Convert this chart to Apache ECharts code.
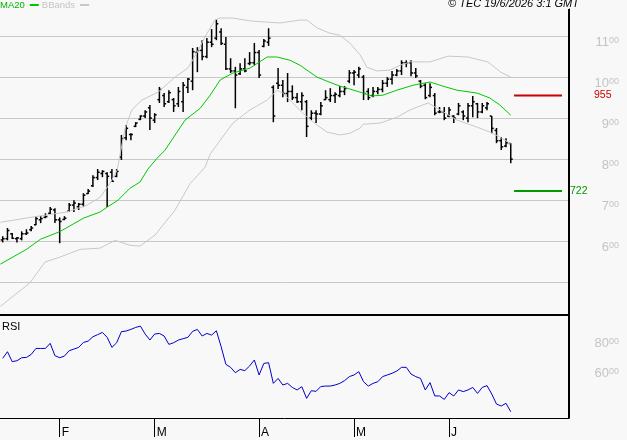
<!DOCTYPE html>
<html>
<head>
    <meta charset="utf-8">
    <title>TEC</title>
    <script src="https://cdn.jsdelivr.net/npm/echarts@6/dist/echarts.min.js"></script>
    <style>
        html, body { margin: 0; padding: 0; background: #f8f8f8; }
        #chart { width: 627px; height: 440px; }
    </style>
</head>
<body>
    <div id="chart"></div>
    <script>
        // one entry per trading session, index 0 = first bar on the chart
        var opens = [603, 606, 618, 606, 606, 618, 628, 640, 652, 658, 668, 676, 652, 653, 673, 688, 684, 690, 716, 735,
            755, 765, 765, 768, 758, 805, 852, 860, 880, 897, 905, 925, 895, 945, 955, 940, 945, 935, 940, 975,
            990, 1060, 1065, 1050, 1085, 1095, 1110, 1080, 1020, 1015, 1008, 1020, 1033, 1035, 1060, 1075, 1085, 975, 985, 980,
            960, 965, 950, 940, 940, 900, 912, 910, 945, 945, 955, 955, 965, 990, 1010, 1005, 1000, 965, 955, 965,
            970, 985, 995, 1005, 1015, 1035, 1035, 1010, 990, 980, 955, 955, 915, 915, 905, 905, 910, 915, 900, 930,
            935, 915, 925, 905, 870, 845, 832, 838];
        var highs = [612, 632, 620, 610, 624, 629, 637, 661, 661, 668, 683, 680, 658, 661, 693, 700, 693, 717, 727, 761,
            776, 773, 768, 776, 776, 859, 883, 863, 890, 907, 919, 932, 912, 976, 961, 968, 949, 976, 988, 998,
            1071, 1073, 1090, 1095, 1117, 1141, 1119, 1098, 1046, 1025, 1034, 1046, 1061, 1083, 1066, 1093, 1119, 980, 1022, 993,
            1010, 980, 961, 963, 944, 919, 919, 939, 968, 973, 963, 978, 978, 1017, 1017, 1025, 1005, 973, 976, 976,
            993, 1000, 1015, 1020, 1041, 1041, 1041, 1022, 993, 985, 985, 961, 927, 927, 927, 907, 937, 919, 937, 954,
            937, 937, 939, 905, 876, 854, 851, 839];
        var lows = [597, 602, 605, 597, 602, 615, 624, 639, 644, 656, 666, 644, 595, 651, 671, 671, 676, 683, 715, 732,
            749, 756, 683, 744, 756, 798, 846, 846, 878, 895, 900, 871, 888, 937, 927, 937, 915, 927, 915, 961,
            968, 1012, 1041, 1046, 1073, 1090, 1078, 1017, 1010, 924, 1005, 1012, 1029, 1029, 998, 1073, 1076, 890, 971, 951,
            939, 944, 937, 919, 854, 895, 888, 907, 944, 939, 937, 951, 956, 985, 980, 998, 944, 944, 951, 958,
            963, 976, 982, 1002, 1005, 1024, 1002, 998, 973, 946, 951, 907, 912, 895, 902, 888, 907, 895, 890, 902,
            900, 912, 919, 863, 839, 822, 829, 790];
        var closes = [606, 626, 607, 608, 618, 620, 632, 655, 655, 660, 678, 652, 648, 656, 688, 693, 690, 712, 722, 755,
            768, 770, 758, 746, 770, 850, 875, 860, 888, 905, 915, 900, 908, 970, 935, 962, 930, 965, 980, 995,
            1062, 1065, 1050, 1085, 1080, 1130, 1082, 1020, 1015, 1005, 1020, 1015, 1035, 1060, 1005, 1088, 1095, 905, 980, 960,
            965, 950, 940, 955, 880, 912, 910, 930, 950, 955, 958, 965, 972, 1010, 1012, 1020, 960, 950, 965, 970,
            985, 995, 1005, 1015, 1035, 1035, 1010, 1003, 978, 950, 975, 912, 915, 900, 920, 900, 930, 905, 930, 940,
            915, 930, 935, 875, 845, 830, 840, 800];

        // moving average and bollinger bands, read as [bar index, value]
        var ma20 = [[-0.5, 544], [5, 580], [8, 605], [12, 623], [17, 656], [20.5, 671], [22, 683], [24.3, 700], [26.8, 729],
            [28.9, 744], [30.6, 776], [32.5, 802], [34.2, 822], [38.4, 895], [41.6, 924], [43.7, 956], [45.8, 993],
            [48.5, 1010], [52.1, 1022], [55.7, 1049], [57.8, 1049], [60.5, 1041], [62.6, 1029], [64.7, 1012], [66.2, 1000],
            [68.3, 990], [71, 978], [73.1, 971], [75.9, 961], [77.8, 954], [80.1, 956], [83, 968], [86.4, 980], [90, 988],
            [92.7, 978], [95.7, 968], [99.9, 961], [102.6, 949], [104.7, 932], [107, 907]];
        var bandUp = [[-0.5, 646], [6.4, 659], [13.5, 671], [17.8, 688], [20.5, 707], [22.6, 741], [24.1, 773], [24.7, 810],
            [25.8, 876], [27.2, 920], [29.3, 944], [32.7, 963], [36.3, 1000], [39, 1022], [40.9, 1059], [42.6, 1098],
            [44.7, 1139], [45.8, 1144], [48.5, 1144], [52.1, 1137], [55.7, 1134], [58.4, 1132], [62.6, 1139], [64.1, 1139],
            [66.2, 1120], [68.9, 1107], [71, 1102], [73.1, 1083], [75.3, 1054], [76.7, 1024], [78.8, 1015], [81.6, 1017],
            [83.7, 1029], [85.8, 1037], [90, 1037], [93.8, 1051], [98, 1049], [102.2, 1037], [104.9, 1012], [107, 1000]];
        var bandDown = [[-0.5, 441], [5.7, 498], [8.9, 549], [12, 561], [16.3, 580], [20.5, 583], [23.7, 602], [26.8, 590],
            [28.9, 588], [32.1, 615], [36.3, 676], [39.5, 741], [42.6, 780], [43.7, 812], [45.8, 846], [48.5, 888],
            [52.1, 920], [55.7, 944], [57.8, 968], [59, 961], [61.1, 937], [63.2, 912], [66.2, 883], [68.3, 866], [71, 859],
            [73.1, 863], [75.3, 876], [75.9, 885], [79.5, 888], [83, 902], [85.8, 920], [89.6, 937], [92.1, 920],
            [95.7, 895], [99.9, 878], [102.6, 866], [104.7, 854], [107, 837]];

        var rsi = [65.8, 70.2, 63.6, 64.2, 66.2, 66.4, 68.4, 72.4, 72.4, 72.4, 75.8, 67.6, 66.2, 67.3, 70.9, 72, 73.1, 76.4, 77.3, 80.2,
            81.6, 83.1, 79.8, 73.1, 76.2, 83.6, 84, 85.1, 86.4, 87.3, 82, 78, 82, 82.4, 80.7, 75.1, 76.2, 78, 78.9, 79.8,
            83.8, 85.1, 80.7, 82.4, 81.3, 84.2, 73.6, 61.8, 59.8, 56.2, 58.4, 57.6, 60.7, 64.7, 54.7, 62.4, 62.9, 49.1, 52.4, 48,
            49.1, 46.4, 44.7, 46.9, 39.1, 44.2, 43.8, 47, 47.3, 47.3, 48, 49.1, 50.9, 53.6, 54.7, 56.9, 50.2, 47.3, 49.1, 50.2,
            53.6, 54.7, 55.8, 57.3, 59.8, 59.8, 55.3, 53.6, 52.4, 44.7, 49.6, 40.7, 40.7, 38.4, 42.9, 40.7, 44.7, 43.6, 44.7, 46.4,
            42.4, 46.4, 47.6, 42, 35.3, 34, 35.8, 30.2];

        var monthTicks = [12, 32, 54, 74, 94];
        var monthNames = ['F', 'M', 'A', 'M', 'J'];
        var priceTicks = [600, 700, 800, 900, 1000, 1100];
        var rsiTicks = [60, 80];
        var levels = [955, 722];
        var levelColors = ['#cc0000', '#009900'];

        var FONT = 'Liberation Sans';
        var xMin = -0.57, xMax = 119.27;
        var priceMin = 420, priceMax = 1166;
        var rsiMin = 26, rsiMax = 94.7;

        var bars = highs.map(function (h, i) {
            return [i, opens[i], h, lows[i], closes[i]];
        });

        function renderBar(params, api) {
            var i = api.value(0);
            var o = api.coord([i, api.value(1)]);
            var h = api.coord([i, api.value(2)]);
            var l = api.coord([i, api.value(3)]);
            var c = api.coord([i, api.value(4)]);
            var st = { stroke: '#000', lineWidth: 1.5 };
            return {
                type: 'group',
                children: [
                    { type: 'line', shape: { x1: h[0], y1: h[1], x2: l[0], y2: l[1] }, style: st },
                    { type: 'line', shape: { x1: o[0] - 2, y1: o[1], x2: o[0], y2: o[1] }, style: st },
                    { type: 'line', shape: { x1: c[0], y1: c[1], x2: c[0] + 2, y2: c[1] }, style: st }
                ]
            };
        }

        // right hand edge of a panel, taken from the panel's own rect
        function renderEdge(params) {
            var r = params.coordSys;
            var x = Math.round(r.x + r.width) - 0.5;
            return {
                type: 'line',
                shape: { x1: x, y1: r.y, x2: x, y2: r.y + r.height },
                style: { stroke: '#000', lineWidth: 1 }
            };
        }

        function priceLabel(v) {
            return '{a|' + Math.floor(v / 100) + '}{b|' + ('0' + (v % 100)).slice(-2) + '}';
        }

        // big digits plus raised small "00", as on the original axis
        var labelRich = {
            a: { fontSize: 13, fontFamily: FONT, color: '#c4c4c4', lineHeight: 13 },
            b: { fontSize: 9, fontFamily: FONT, color: '#c4c4c4', verticalAlign: 'top', lineHeight: 13 }
        };

        var frameLine = { show: true, onZero: false, lineStyle: { color: '#000', width: 1 } };

        var series = [
            {
                name: 'BBands', type: 'line', data: bandUp, showSymbol: false, silent: true,
                lineStyle: { color: '#c8c8c8', width: 1 }, itemStyle: { color: '#c8c8c8' }
            },
            {
                name: 'BBands', type: 'line', data: bandDown, showSymbol: false, silent: true,
                lineStyle: { color: '#c8c8c8', width: 1 }, itemStyle: { color: '#c8c8c8' }
            },
            {
                name: 'MA20', type: 'line', data: ma20, showSymbol: false, silent: true,
                lineStyle: { color: '#00c800', width: 1 }, itemStyle: { color: '#00c800' }
            },
            {
                name: 'price', type: 'custom', renderItem: renderBar, data: bars,
                encode: { x: 0, y: [1, 2, 3, 4] }
            },
            {
                name: 'RSI', type: 'line', xAxisIndex: 1, yAxisIndex: 1, showSymbol: false, silent: true,
                data: rsi.map(function (v, i) { return [i, v]; }),
                lineStyle: { color: '#0000cc', width: 1 }
            },
            {
                name: 'edgeTop', type: 'custom', renderItem: renderEdge, silent: true, z: 20,
                data: [[xMax, priceMin]]
            },
            {
                name: 'edgeRsi', type: 'custom', renderItem: renderEdge, silent: true, z: 20,
                xAxisIndex: 1, yAxisIndex: 1, data: [[xMax, rsiMin]]
            }
        ];

        levels.forEach(function (lv, k) {
            series.push({
                name: 'level' + k, type: 'line', data: [[107.7, lv], [117.8, lv]],
                showSymbol: false, silent: true,
                lineStyle: { color: levelColors[k], width: 2 },
                endLabel: {
                    show: true, formatter: String(lv), color: levelColors[k],
                    fontSize: 10.5, fontFamily: FONT, distance: k === 0 ? 32 : 8
                }
            });
        });

        var chart = echarts.init(document.getElementById('chart'));
        chart.setOption({
            animation: false,
            backgroundColor: '#f8f8f8',
            textStyle: { fontFamily: FONT },
            title: [
                {
                    text: '© TEC 19/6/2026 3:1 GMT', left: 448, top: -2, padding: 0,
                    textStyle: { fontSize: 11, fontStyle: 'italic', fontWeight: 'normal', color: '#000', fontFamily: FONT }
                },
                {
                    text: 'RSI', left: 2, top: 321, padding: 0,
                    textStyle: { fontSize: 11, fontWeight: 'normal', color: '#000', fontFamily: FONT }
                }
            ],
            legend: {
                left: 0, top: 0, padding: 0, align: 'right', itemGap: 3,
                itemWidth: 9, itemHeight: 2, selectedMode: false,
                textStyle: { fontSize: 9.5, fontFamily: FONT },
                data: [
                    { name: 'MA20', icon: 'rect', textStyle: { color: '#00b400' } },
                    { name: 'BBands', icon: 'rect', textStyle: { color: '#c4c4c4' } }
                ]
            },
            grid: [
                { left: 0, right: 58, top: 9, height: 306 },
                { left: 0, right: 58, top: 315, height: 103 }
            ],
            xAxis: [
                {
                    type: 'value', gridIndex: 0, min: xMin, max: xMax,
                    axisLine: { onZero: false, lineStyle: { color: '#000', width: 2 } },
                    axisTick: { show: false }, axisLabel: { show: false }, splitLine: { show: false }
                },
                {
                    type: 'value', gridIndex: 1, min: xMin, max: xMax,
                    axisLine: { onZero: false, lineStyle: { color: '#000', width: 1 } },
                    axisTick: { customValues: monthTicks, length: 19, lineStyle: { color: '#000' } },
                    axisLabel: {
                        customValues: monthTicks, align: 'left', margin: 9, padding: [0, 0, 0, 2],
                        fontSize: 12, color: '#000', fontFamily: FONT,
                        formatter: function (v) { return monthNames[monthTicks.indexOf(v)]; }
                    },
                    splitLine: { show: false }
                }
            ],
            yAxis: [
                {
                    type: 'value', gridIndex: 0, position: 'right', min: priceMin, max: priceMax,
                    minInterval: 100, maxInterval: 100,
                    axisLine: frameLine,
                    axisTick: { show: false },
                    axisLabel: {
                        customValues: priceTicks, align: 'right', margin: 50, verticalAlign: 'top',
                        formatter: priceLabel, rich: labelRich
                    },
                    splitLine: { show: true, showMinLine: false, showMaxLine: false, lineStyle: { color: '#c8c8c8', width: 1 } }
                },
                {
                    type: 'value', gridIndex: 1, position: 'right', min: rsiMin, max: rsiMax,
                    axisLine: frameLine,
                    axisTick: { show: false },
                    axisLabel: {
                        customValues: rsiTicks, align: 'right', margin: 50, verticalAlign: 'top',
                        formatter: function (v) { return '{a|' + v + '}{b|00}'; }, rich: labelRich
                    },
                    splitLine: { show: false }
                }
            ],
            series: series
        });
    </script>
</body>
</html>
